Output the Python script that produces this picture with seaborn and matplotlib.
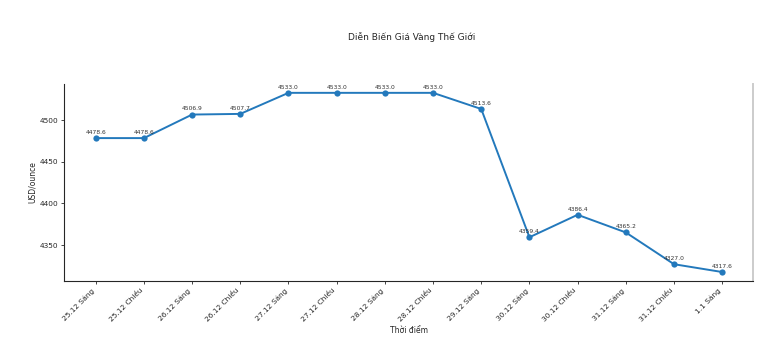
import matplotlib
matplotlib.use("Agg")
import matplotlib.pyplot as plt
import seaborn as sns
import pandas as pd

times = ["25.12 Sáng", "25.12 Chiều", "26.12 Sáng", "26.12 Chiều", "27.12 Sáng",
         "27.12 Chiều", "28.12 Sáng", "28.12 Chiều", "29.12 Sáng", "30.12 Sáng",
         "30.12 Chiều", "31.12 Sáng", "31.12 Chiều", "1.1 Sáng"]
prices = [4478.6, 4478.6, 4506.9, 4507.7, 4533.0, 4533.0, 4533.0, 4533.0,
          4513.6, 4359.4, 4386.4, 4365.2, 4327.0, 4317.6]

title = "Diễn Biến Giá Vàng Thế Giới"
xlabel = "Thời điểm"
ylabel = "USD/ounce"

sns.set_theme(style="ticks")
plt.rcParams['font.family'] = ['DejaVu Sans']

df = pd.DataFrame({"time": times, "price": prices})

fig = plt.figure(figsize=(7.76, 3.41), dpi=100)
ax = fig.add_axes([0.083, 0.176, 0.888, 0.578])

sns.lineplot(data=df, x="time", y="price", sort=False, marker="o",
             color="#2379bc", linewidth=1.4, markersize=4.5,
             markeredgewidth=0, ax=ax)

for i, v in enumerate(prices):
    ax.annotate(f"{v:.1f}", (i, v), textcoords="offset points", xytext=(0, 3),
                ha="center", fontsize=4.3, color="#333333")

ax.set_xticks(range(len(times)))
ax.set_xticklabels(times, rotation=45, ha="right", fontsize=5.3)
ax.tick_params(axis="y", labelsize=5.3)
ax.tick_params(length=2.5, width=0.6, pad=2)
ax.set_yticks([4350, 4400, 4450, 4500])
ax.set_xlabel(xlabel, fontsize=5.5, labelpad=2)
ax.set_ylabel(ylabel, fontsize=5.5, labelpad=2)
fig.text(0.53, 0.89, title, ha="center", va="center", fontsize=6.5)

ax.spines["top"].set_visible(False)
ax.spines["right"].set_color("#cccccc")
ax.spines["right"].set_linewidth(1.4)
ax.spines["left"].set_linewidth(0.8)
ax.spines["bottom"].set_linewidth(0.8)

fig.savefig("out.png", dpi=100)
